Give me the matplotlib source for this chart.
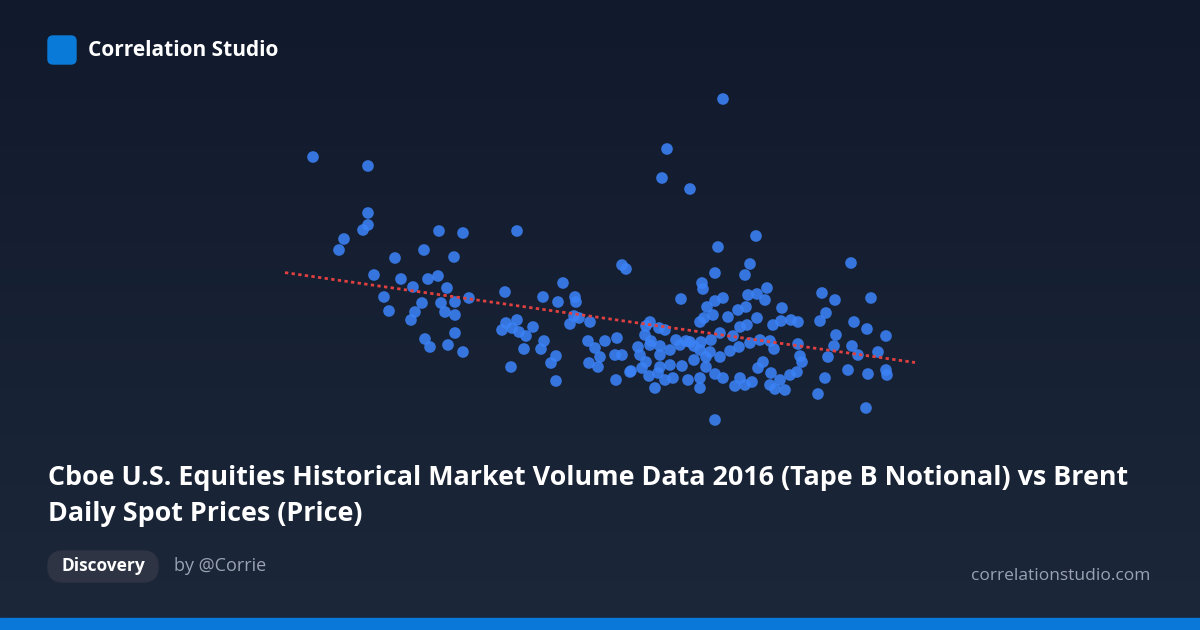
import numpy as np
import matplotlib
matplotlib.use("Agg")
import matplotlib.pyplot as plt
from matplotlib.patches import FancyBboxPatch, Rectangle
from matplotlib.colors import LinearSegmentedColormap

pts = [(313,157),(368,166),(368,213),(368,225),(363,230),(344,239),(339,250),(395,258),(374,275),(424,250),(439,231),(463,233),(454,257),(517,231),(401,279),(413,287),(428,279),(438,276),(447,288),(384,297),(389,311),(411,320),(415,312),(422,303),(441,303),(455,302),(469,298),(445,312),(425,339),(430,347),(455,315),(455,333),(448,345),(463,352),(505,292),(506,323),(502,330),(512,328),(517,320),(519,332),(526,336),(524,349),(511,367),(533,327),(544,341),(541,349),(556,356),(551,363),(556,381),(543,297),(558,302),(563,283),(575,297),(576,302),(570,324),(574,316),(579,318),(590,322),(588,341),(595,348),(600,357),(605,341),(598,367),(589,363),(615,355),(622,355),(640,355),(630,372),(638,347),(617,338),
(622,265),(626,269),(718,247),(715,273),(750,264),(745,275),(756,236),(667,149),(662,178),(690,189),(723,99),(681,299),(702,283),(703,289),(715,301),(723,298),(707,307),(713,315),(704,318),(700,322),(728,317),(738,310),(746,307),(748,295),(757,294),(765,300),(767,288),(782,308),(781,321),(757,318),(747,325),(740,327),(733,336),(720,333),(711,340),(701,342),(694,346),(686,341),(676,340),(665,330),(659,328),(650,322),(646,326),(645,335),(651,341),(660,346),(670,350),(680,345),(690,342),(700,350),(710,352),(720,357),(730,351),(739,347),(750,343),(760,340),(770,341),(774,349),(773,325),(791,320),(798,322),(798,344),(800,356),(802,362),(763,362),(758,368),(771,373),(780,380),(790,375),(785,390),(775,389),(770,385),(752,382),(740,378),(745,385),(735,386),(723,378),(715,374),(706,367),(700,378),(688,380),(673,378),(665,380),(655,388),(649,376),(660,367),(670,365),(682,366),(694,360),(706,357),(650,345),(616,380),(631,371),(646,362),(660,355),(715,420),(822,293),(835,300),(826,313),(820,321),(851,263),(871,298),(854,322),(867,329),(886,336),(836,335),(834,346),(852,346),(878,352),(828,357),(858,355),(797,372),(825,378),(848,370),(868,374),(887,375),(886,370),(818,394),(866,408),(642,368),(658,373),(700,388)]
volume = [p[0] for p in pts]   # x positions as read
price = [p[1] for p in pts]    # y positions as read (screen units, inverted)

W, H = 1200, 630
fig = plt.figure(figsize=(12, 6.3), dpi=100)
bg = fig.add_axes([0, 0, 1, 1])
bg.set_xlim(0, W); bg.set_ylim(H, 0); bg.axis("off")
grad = np.linspace(0, 1, 256)[:, None]
cm = LinearSegmentedColormap.from_list("g", ["#111a2c", "#1c273a"])
bg.imshow(grad, cmap=cm, extent=[0, W, H, 0], aspect="auto", zorder=0)

ax = fig.add_axes([0, 0, 1, 1])
ax.set_xlim(0, W); ax.set_ylim(H, 0); ax.axis("off"); ax.patch.set_alpha(0)
ax.scatter(volume, price, s=70, color="#3b82f6", alpha=0.88, edgecolors="none", zorder=3)
k, b = np.polyfit(volume, price, 1)
xs = np.array([285, 915])
ax.plot(xs, k * xs + b, color="#e0403f", lw=2, ls=(0, (1.2, 1.2)), zorder=4)

bg.add_patch(FancyBboxPatch((48, 36), 28, 28, boxstyle="round,pad=0,rounding_size=5", color="#0a7ad8", zorder=2))
bg.text(88, 50, "Correlation Studio", color="white", fontsize=15, fontweight="bold", va="center", family="Open Sans")
bg.text(48, 478, "Cboe U.S. Equities Historical Market Volume Data 2016 (Tape B Notional) vs Brent", color="white",
        fontsize=19.4, fontweight="bold", va="center", family="Open Sans")
bg.text(48, 514, "Daily Spot Prices (Price)", color="white", fontsize=19.4, fontweight="bold", va="center", family="Open Sans")
bg.add_patch(FancyBboxPatch((48, 551), 110, 31, boxstyle="round,pad=0,rounding_size=15", color="#2e3444", zorder=2))
bg.text(103, 566, "Discovery", color="white", fontsize=12.5, fontweight="bold", ha="center", va="center", family="Open Sans")
bg.text(174, 566, "by @Corrie", color="#9aa3b2", fontsize=13, va="center", family="Open Sans")
bg.text(1150, 576, "correlationstudio.com", color="#9aa3b2", fontsize=12.5, ha="right", va="center", family="Open Sans")
bg.add_patch(Rectangle((0, 618), W, 12, color="#0a78d8", zorder=2))

fig.savefig("out.png", dpi=100)
